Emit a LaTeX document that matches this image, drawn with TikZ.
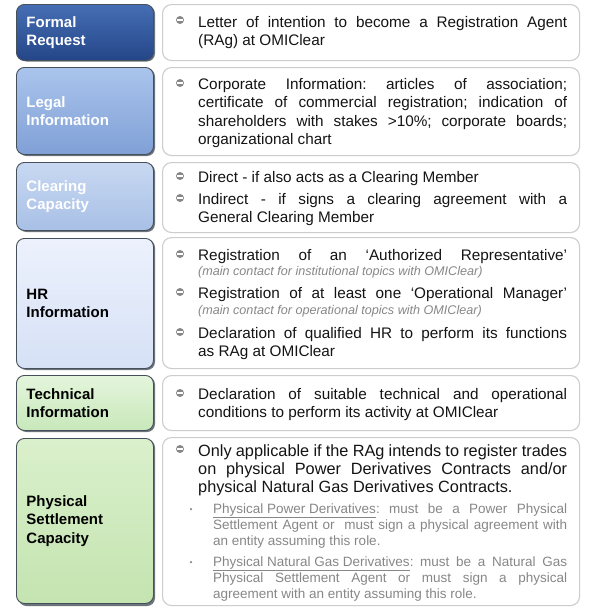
\documentclass[tikz,border=0pt]{standalone}
\usepackage{fontspec}
\setmainfont{Liberation Sans}
\frenchspacing
\definecolor{c1t}{RGB}{70,110,180}
\definecolor{c1b}{RGB}{36,70,136}
\definecolor{c2t}{RGB}{170,196,236}
\definecolor{c2b}{RGB}{128,160,214}
\definecolor{c3t}{RGB}{200,216,242}
\definecolor{c3b}{RGB}{168,192,230}
\definecolor{c4t}{RGB}{236,241,252}
\definecolor{c4b}{RGB}{214,225,246}
\definecolor{c5t}{RGB}{228,245,220}
\definecolor{c5b}{RGB}{200,232,186}
\definecolor{c6t}{RGB}{218,240,204}
\definecolor{c6b}{RGB}{196,228,176}
\definecolor{edge}{RGB}{70,80,90}
\definecolor{rborder}{RGB}{205,205,205}
\definecolor{bulletgray}{RGB}{135,135,135}
\definecolor{subgray}{RGB}{135,135,135}
\definecolor{maintext}{RGB}{20,20,20}
\tikzset{
  lbox/.style={rounded corners=8pt, draw=edge, line width=0.9pt, anchor=north west,
    minimum width=137pt, text width=117pt, inner xsep=10pt, align=left,
    font=\fontsize{15}{18.5}\selectfont\bfseries},
  lshadow/.style={rounded corners=8pt, fill=edge!80},
  rbox/.style={rounded corners=9pt, draw=rborder, line width=1.1pt, fill=white,
    anchor=north west, minimum width=417pt},
  maintxt/.style={anchor=base west, inner sep=0pt, text width=369pt, align=justify,
    font=\fontsize{15.3}{18.5}\selectfont, text=maintext},
  bigtxt/.style={anchor=base west, inner sep=0pt, text width=369pt, align=justify,
    font=\fontsize{16.3}{18.3}\selectfont, text=maintext},
  itxt/.style={anchor=base west, inner sep=0pt, font=\fontsize{12.6}{13}\selectfont\itshape, text=subgray},
  subtxt/.style={anchor=base west, inner sep=0pt, text width=354pt, align=justify,
    font=\fontsize{13.5}{16}\selectfont, text=subgray},
  bic/.style={circle, fill=bulletgray, minimum size=8pt, inner sep=0pt},
  sdot/.style={circle, fill=subgray, minimum size=2.5pt, inner sep=0pt},
}
\newcommand{\bul}[2]{%
  \node[bic] (#1) at (180,#2) {};
  \fill[white] (177.3,#2-0.75) rectangle (182.7,#2+0.75);}
\begin{document}
\begin{tikzpicture}[x=1pt,y=-1pt]
\useasboundingbox[fill=white] (0,0) rectangle (598,614);
% ---------- left boxes ----------
\fill[lshadow] (18.5,5.5) rectangle (155,61.5);
\node[lbox, top color=c1t, bottom color=c1b, text=white, minimum height=56pt] (l1) at (16,4) {Formal\\Request};
\fill[lshadow] (18.5,68.5) rectangle (155,156);
\node[lbox, top color=c2t, bottom color=c2b, text=white, minimum height=87pt] (l2) at (16,67) {Legal\\Information};
\fill[lshadow] (18.5,163.5) rectangle (155,232);
\node[lbox, top color=c3t, bottom color=c3b, text=white, minimum height=68pt] (l3) at (16,162) {Clearing\\Capacity};
\fill[lshadow] (18.5,239.5) rectangle (155,370);
\node[lbox, top color=c4t, bottom color=c4b, text=black, minimum height=130pt] (l4) at (16,238) {HR\\Information};
\fill[lshadow] (18.5,376.5) rectangle (155,432);
\node[lbox, top color=c5t, bottom color=c5b, text=black, minimum height=55pt] (l5) at (16,375) {Technical\\Information};
\fill[lshadow] (18.5,439.5) rectangle (155,606);
\node[lbox, top color=c6t, bottom color=c6b, text=black, minimum height=165pt] (l6) at (16,438) {Physical\\Settlement\\Capacity};
% ---------- right boxes ----------
\node[rbox, minimum height=56pt] (r1) at (162,4) {};
\node[rbox, minimum height=88pt] (r2) at (162,67) {};
\node[rbox, minimum height=70pt] (r3) at (162,162) {};
\node[rbox, minimum height=131pt] (r4) at (162,237) {};
\node[rbox, minimum height=55pt] (r5) at (162,375) {};
\node[rbox, minimum height=168pt] (r6) at (162,437) {};
% ---------- box 1 ----------
\bul{b1}{20}
\node[maintxt] (t1) at (198,27) {Letter of intention to become a Registration Agent\linebreak (RAg) at OMIClear};
% ---------- box 2 ----------
\bul{b2}{83}
\node[maintxt] (t2) at (198,89) {Corporate Information: articles of association;\linebreak certificate of commercial registration; indication of\linebreak shareholders with stakes >10\%; corporate boards;\linebreak organizational chart};
% ---------- box 3 ----------
\bul{b3a}{176}
\node[maintxt] (t3a) at (198,182) {Direct - if also acts as a Clearing Member};
\bul{b3b}{198}
\node[maintxt] (t3b) at (198,204) {Indirect - if signs a clearing agreement with a\linebreak General Clearing Member};
% ---------- box 4 ----------
\bul{b4a}{254}
\node[maintxt] (t4a) at (198,260) {Registration of an ‘Authorized Representative’\linebreak};
\node[itxt] (i4a) at (198,275) {(main contact for institutional topics with OMIClear)};
\bul{b4b}{292}
\node[maintxt] (t4b) at (198,298) {Registration of at least one ‘Operational Manager’\linebreak};
\node[itxt] (i4b) at (198,314) {(main contact for operational topics with OMIClear)};
\bul{b4c}{332}
\node[maintxt] (t4c) at (198,338) {Declaration of qualified HR to perform its functions\linebreak as RAg at OMIClear};
% ---------- box 5 ----------
\bul{b5}{393}
\node[maintxt] (t5) at (198,399) {Declaration of suitable technical and operational\linebreak conditions to perform its activity at OMIClear};
% ---------- box 6 ----------
\bul{b6}{449}
\node[bigtxt] (t6) at (198,456) {Only applicable if the RAg intends to register trades\linebreak on physical Power Derivatives Contracts and/or\linebreak physical Natural Gas Derivatives Contracts.};
\node[sdot] (d1) at (191,509) {};
\node[subtxt] (s1) at (213,513) {\underline{Physical Power Derivatives}: must be a Power Physical\linebreak Settlement Agent or\ \ must sign a physical agreement with\linebreak an entity assuming this role.};
\node[sdot] (d2) at (191,562) {};
\node[subtxt] (s2) at (213,566) {\underline{Physical Natural Gas Derivatives}: must be a Natural Gas\linebreak Physical Settlement Agent or must sign a physical\linebreak agreement with an entity assuming this role.};
\end{tikzpicture}
\end{document}
